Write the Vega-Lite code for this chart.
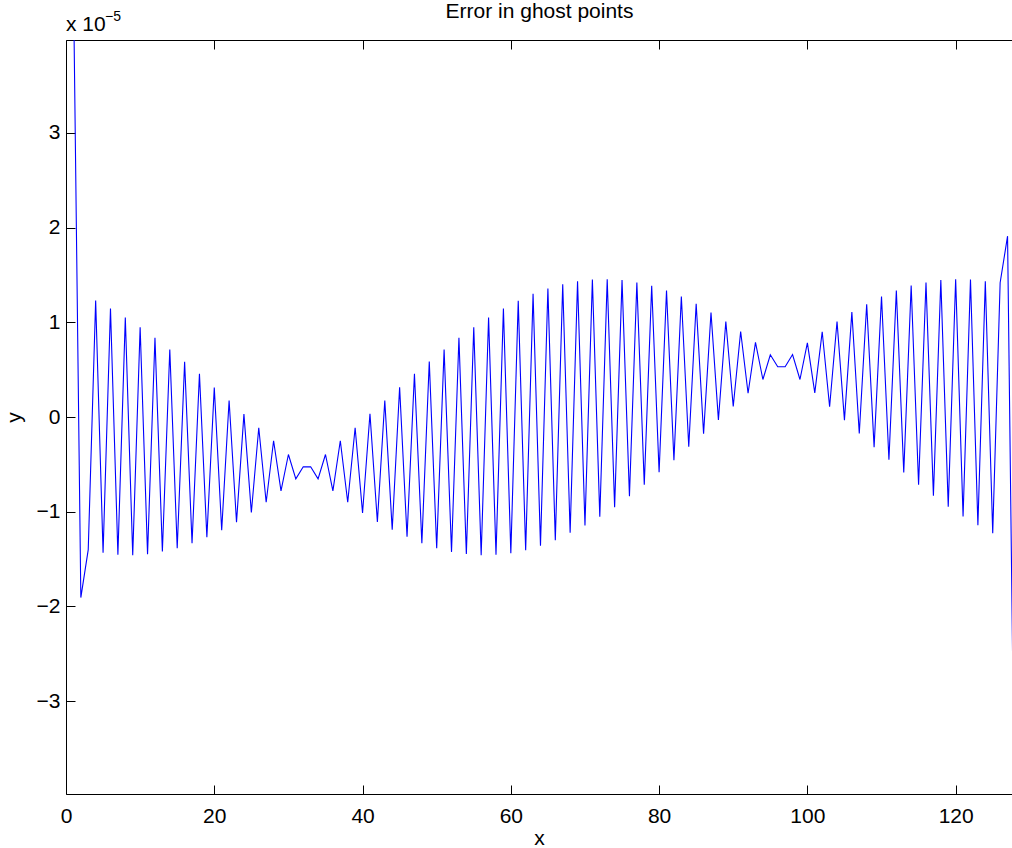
{
  "$schema": "https://vega.github.io/schema/vega-lite/v6.json",
  "width": 946,
  "height": 754,
  "autosize": {"type": "none"},
  "padding": {"left": 66, "top": 40, "right": 0, "bottom": 54},
  "background": "white",
  "view": {"stroke": null},
  "config": {
    "axis": {"labelFont": "Liberation Sans", "labelFontSize": 21, "labelColor": "black", "labelFlush": false, "domainColor": "black", "domainWidth": 1, "tickColor": "black", "tickWidth": 1, "titleFont": "Liberation Sans", "titleFontSize": 21, "titleFontWeight": "normal", "titleColor": "black", "grid": false}
  },
  "resolve": {"axis": {"x": "independent", "y": "independent"}},
  "layer": [
    {
      "data": {"values": [
        {"x":1,"y":4.6e-5},{"x":2,"y":-1.906e-5},{"x":3,"y":-1.40e-5},{"x":4,"y":1.23e-5},{"x":5,"y":-1.434e-5},{"x":6,"y":1.146e-5},{"x":7,"y":-1.455e-5},{"x":8,"y":1.05e-5},{"x":9,"y":-1.459e-5},{"x":10,"y":0.948e-5},
        {"x":11,"y":-1.449e-5},{"x":12,"y":0.836e-5},{"x":13,"y":-1.42e-5},{"x":14,"y":0.713e-5},{"x":15,"y":-1.385e-5},{"x":16,"y":0.583e-5},{"x":17,"y":-1.332e-5},{"x":18,"y":0.456e-5},{"x":19,"y":-1.269e-5},{"x":20,"y":0.312e-5},
        {"x":21,"y":-1.195e-5},{"x":22,"y":0.174e-5},{"x":23,"y":-1.11e-5},{"x":24,"y":0.03e-5},{"x":25,"y":-1.009e-5},{"x":26,"y":-0.114e-5},{"x":27,"y":-0.90e-5},{"x":28,"y":-0.251e-5},{"x":29,"y":-0.78e-5},{"x":30,"y":-0.396e-5},
        {"x":31,"y":-0.653e-5},{"x":32,"y":-0.526e-5},{"x":33,"y":-0.526e-5},{"x":34,"y":-0.653e-5},{"x":35,"y":-0.396e-5},{"x":36,"y":-0.78e-5},{"x":37,"y":-0.251e-5},{"x":38,"y":-0.90e-5},{"x":39,"y":-0.114e-5},{"x":40,"y":-1.012e-5},
        {"x":41,"y":0.034e-5},{"x":42,"y":-1.107e-5},{"x":43,"y":0.174e-5},{"x":44,"y":-1.191e-5},{"x":45,"y":0.315e-5},{"x":46,"y":-1.265e-5},{"x":47,"y":0.456e-5},{"x":48,"y":-1.332e-5},{"x":49,"y":0.586e-5},{"x":50,"y":-1.385e-5},
        {"x":51,"y":0.713e-5},{"x":52,"y":-1.424e-5},{"x":53,"y":0.836e-5},{"x":54,"y":-1.445e-5},{"x":55,"y":0.948e-5},{"x":56,"y":-1.459e-5},{"x":57,"y":1.051e-5},{"x":58,"y":-1.455e-5},{"x":59,"y":1.146e-5},{"x":60,"y":-1.438e-5},
        {"x":61,"y":1.227e-5},{"x":62,"y":-1.406e-5},{"x":63,"y":1.301e-5},{"x":64,"y":-1.36e-5},{"x":65,"y":1.357e-5},{"x":66,"y":-1.301e-5},{"x":67,"y":1.402e-5},{"x":68,"y":-1.223e-5},{"x":69,"y":1.434e-5},{"x":70,"y":-1.146e-5},
        {"x":71,"y":1.452e-5},{"x":72,"y":-1.054e-5},{"x":73,"y":1.455e-5},{"x":74,"y":-0.952e-5},{"x":75,"y":1.445e-5},{"x":76,"y":-0.836e-5},{"x":77,"y":1.420e-5},{"x":78,"y":-0.716e-5},{"x":79,"y":1.385e-5},{"x":80,"y":-0.583e-5},
        {"x":81,"y":1.336e-5},{"x":82,"y":-0.456e-5},{"x":83,"y":1.272e-5},{"x":84,"y":-0.315e-5},{"x":85,"y":1.195e-5},{"x":86,"y":-0.177e-5},{"x":87,"y":1.103e-5},{"x":88,"y":-0.03e-5},{"x":89,"y":1.008e-5},{"x":90,"y":0.111e-5},
        {"x":91,"y":0.903e-5},{"x":92,"y":0.251e-5},{"x":93,"y":0.787e-5},{"x":94,"y":0.396e-5},{"x":95,"y":0.657e-5},{"x":96,"y":0.530e-5},{"x":97,"y":0.530e-5},{"x":98,"y":0.66e-5},{"x":99,"y":0.396e-5},{"x":100,"y":0.783e-5},
        {"x":101,"y":0.255e-5},{"x":102,"y":0.9e-5},{"x":103,"y":0.108e-5},{"x":104,"y":1.008e-5},{"x":105,"y":-0.033e-5},{"x":106,"y":1.107e-5},{"x":107,"y":-0.174e-5},{"x":108,"y":1.191e-5},{"x":109,"y":-0.318e-5},{"x":110,"y":1.272e-5},
        {"x":111,"y":-0.452e-5},{"x":112,"y":1.336e-5},{"x":113,"y":-0.586e-5},{"x":114,"y":1.389e-5},{"x":115,"y":-0.716e-5},{"x":116,"y":1.420e-5},{"x":117,"y":-0.832e-5},{"x":118,"y":1.445e-5},{"x":119,"y":-0.948e-5},{"x":120,"y":1.455e-5},
        {"x":121,"y":-1.051e-5},{"x":122,"y":1.452e-5},{"x":123,"y":-1.142e-5},{"x":124,"y":1.434e-5},{"x":125,"y":-1.227e-5},{"x":126,"y":1.417e-5},{"x":127,"y":1.909e-5},{"x":128,"y":-4.6e-5}
      ]},
      "mark": {"type": "line", "color": "#0000ff", "strokeWidth": 1.1, "clip": true},
      "encoding": {
        "x": {"field": "x", "type": "quantitative", "scale": {"domain": [0, 127.6], "nice": false, "zero": false},
              "axis": {"orient": "bottom", "title": "x", "values": [0,20,40,60,80,100,120], "ticks": false, "labelPadding": 11, "titlePadding": 1}},
        "y": {"field": "y", "type": "quantitative", "scale": {"domain": [-3.98e-5, 3.98e-5], "nice": false, "zero": false},
              "axis": {"orient": "left", "title": "y", "values": [-3e-5,-2e-5,-1e-5,0,1e-5,2e-5,3e-5], "labelExpr": "format(round(datum.value*1e5), 'd')", "ticks": false, "labelPadding": 6, "titlePadding": 12}}
      }
    },
    {
      "data": {"values": [{"label": "x 10"}]},
      "mark": {"type": "text", "font": "Liberation Sans", "fontSize": 21, "color": "black", "align": "left", "baseline": "alphabetic", "dx": 0, "dy": -9.5},
      "encoding": {
        "x": {"datum": 0, "type": "quantitative", "scale": {"domain": [0, 127.6], "nice": false, "zero": false},
              "axis": {"orient": "top", "title": "Error in ghost points", "titleBaseline": "alphabetic", "titlePadding": 22, "labels": false, "values": [0,20,40,60,80,100,120], "tickSize": -9}},
        "y": {"datum": 3.98e-5, "type": "quantitative", "scale": {"domain": [-3.98e-5, 3.98e-5], "nice": false, "zero": false},
              "axis": {"orient": "left", "title": null, "labels": false, "domain": false, "values": [-3e-5,-2e-5,-1e-5,0,1e-5,2e-5,3e-5], "tickSize": -9}},
        "text": {"field": "label", "type": "nominal"}
      }
    },
    {
      "data": {"values": [{"label": "−5"}]},
      "mark": {"type": "text", "font": "Liberation Sans", "fontSize": 14, "color": "black", "align": "left", "baseline": "alphabetic", "dx": 39, "dy": -19},
      "encoding": {
        "x": {"datum": 0, "type": "quantitative", "scale": {"domain": [0, 127.6], "nice": false, "zero": false},
              "axis": {"orient": "bottom", "title": null, "labels": false, "domain": false, "values": [0,20,40,60,80,100,120], "tickSize": -9}},
        "y": {"datum": 3.98e-5, "type": "quantitative", "scale": {"domain": [-3.98e-5, 3.98e-5], "nice": false, "zero": false}, "axis": null},
        "text": {"field": "label", "type": "nominal"}
      }
    }
  ]
}
